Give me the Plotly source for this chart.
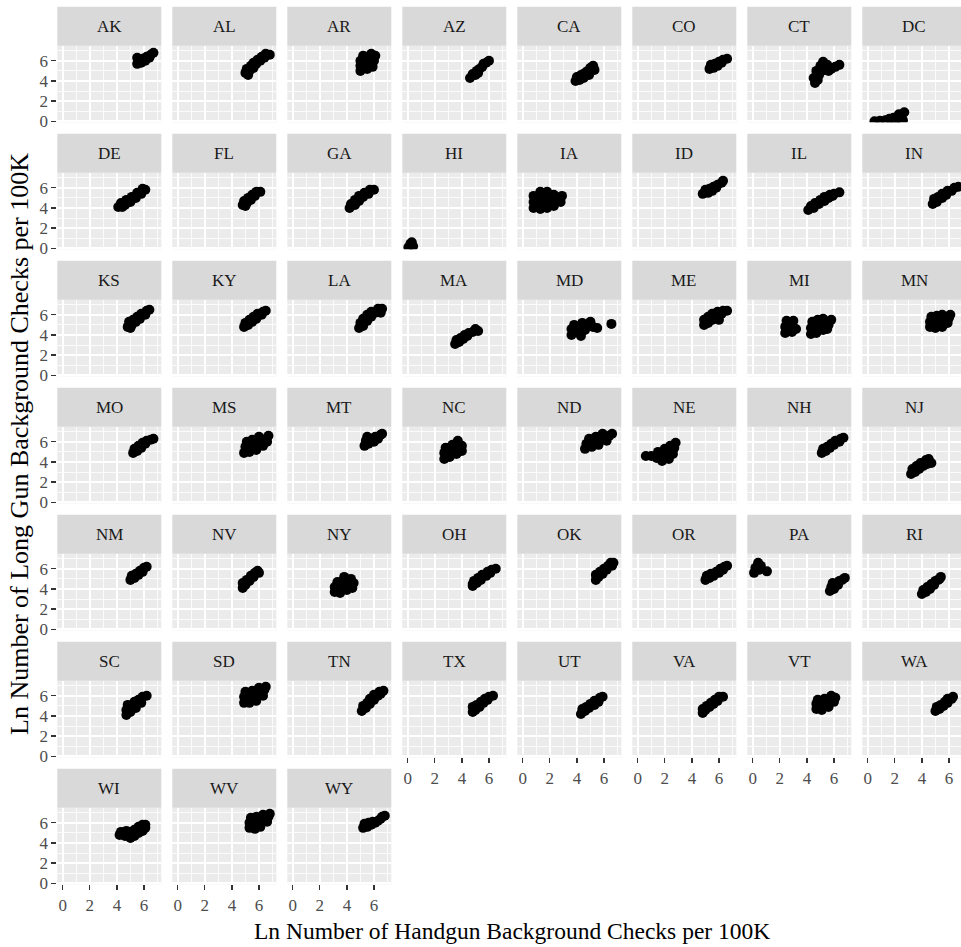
import plotly.graph_objects as go

# ---------------- data (approximate point clouds) ----------------
states = ["AK", "AL", "AR", "AZ", "CA", "CO", "CT", "DC",
          "DE", "FL", "GA", "HI", "IA", "ID", "IL", "IN",
          "KS", "KY", "LA", "MA", "MD", "ME", "MI", "MN",
          "MO", "MS", "MT", "NC", "ND", "NE", "NH", "NJ",
          "NM", "NV", "NY", "OH", "OK", "OR", "PA", "RI",
          "SC", "SD", "TN", "TX", "UT", "VA", "VT", "WA",
          "WI", "WV", "WY"]

AK = [(5.5, 5.7), (5.6, 6.1), (5.8, 5.8), (5.9, 6.2), (6.1, 6.0), (6.2, 6.4), (6.4, 6.3), (6.5, 6.6), (6.7, 6.8), (5.5, 6.3)]
AL = [(5.0, 4.8), (5.1, 5.2), (5.3, 5.0), (5.4, 5.5), (5.6, 5.3), (5.6, 5.8), (5.8, 5.7), (5.9, 6.1), (6.1, 6.0), (6.2, 6.4), (6.4, 6.3), (6.5, 6.7), (6.8, 6.6), (5.2, 4.6)]
AR = [(5.0, 5.0), (5.0, 5.5), (5.0, 6.0), (5.2, 6.5), (5.5, 5.2), (5.5, 5.8), (5.5, 6.4), (5.8, 6.7), (5.9, 5.4), (6.0, 6.0), (6.1, 6.5)]
AZ = [(4.6, 4.3), (4.8, 4.7), (5.0, 4.6), (5.1, 5.0), (5.3, 5.2), (5.5, 5.4), (5.6, 5.7), (5.8, 5.8), (6.0, 6.0), (5.2, 4.8)]
CA = [(3.9, 4.0), (4.0, 4.4), (4.2, 4.1), (4.3, 4.6), (4.5, 4.3), (4.6, 4.8), (4.8, 5.0), (4.9, 4.6), (5.0, 5.3), (5.2, 5.5), (5.3, 5.1)]
CO = [(5.3, 5.2), (5.4, 5.6), (5.6, 5.3), (5.7, 5.7), (5.9, 5.5), (6.0, 5.9), (6.2, 5.8), (6.3, 6.1), (6.6, 6.2)]
CT = [(4.6, 3.8), (4.5, 4.3), (4.8, 4.1), (4.9, 4.6), (4.7, 5.0), (5.1, 5.0), (5.0, 5.5), (5.2, 5.9), (5.4, 5.3), (5.6, 5.0), (5.8, 5.2), (6.1, 5.4), (6.4, 5.6), (5.5, 5.6)]
DC = [(0.5, 0.0), (0.9, 0.05), (1.3, 0.1), (1.6, 0.25), (1.9, 0.35), (2.2, 0.3), (2.5, 0.5), (2.7, 0.9), (2.3, 0.7), (2.0, 0.0), (2.6, 0.1)]
DE = [(4.1, 4.1), (4.3, 4.5), (4.6, 4.3), (4.7, 4.8), (5.0, 4.6), (5.1, 5.1), (5.4, 5.0), (5.5, 5.5), (5.8, 5.4), (5.9, 5.9), (6.1, 5.8), (4.4, 4.1)]
FL = [(4.8, 4.3), (4.9, 4.7), (5.1, 4.5), (5.2, 5.0), (5.4, 4.8), (5.5, 5.3), (5.7, 5.2), (5.8, 5.6), (6.1, 5.6), (5.0, 4.2)]
GA = [(4.2, 4.0), (4.3, 4.4), (4.6, 4.3), (4.6, 4.8), (4.9, 4.7), (4.9, 5.2), (5.2, 5.1), (5.3, 5.5), (5.6, 5.4), (5.7, 5.8), (6.0, 5.8)]
HI = [(0.05, 0.1), (0.2, 0.45), (0.4, 0.2), (0.3, 0.6)]
IA = [(0.8, 4.0), (0.8, 4.6), (0.8, 5.2), (1.3, 3.9), (1.3, 4.5), (1.3, 5.1), (1.3, 5.6), (1.8, 4.0), (1.8, 4.6), (1.8, 5.2), (1.8, 5.6), (2.3, 4.2), (2.3, 4.8), (2.3, 5.3), (2.8, 4.6), (2.9, 5.2)]
ID = [(4.8, 5.4), (5.0, 5.8), (5.2, 5.5), (5.3, 5.9), (5.5, 5.7), (5.6, 6.1), (5.8, 6.0), (5.9, 6.3), (6.2, 6.5), (6.3, 6.7)]
IL = [(4.1, 3.8), (4.3, 4.2), (4.5, 4.0), (4.6, 4.5), (4.9, 4.4), (5.0, 4.8), (5.3, 4.7), (5.3, 5.1), (5.6, 5.0), (5.7, 5.3), (5.9, 5.2), (6.0, 5.4), (6.4, 5.55)]
IN = [(4.8, 4.4), (4.9, 4.9), (5.1, 4.6), (5.2, 5.1), (5.5, 5.0), (5.5, 5.4), (5.8, 5.3), (5.9, 5.7), (6.2, 5.7), (6.4, 6.0), (6.7, 6.1)]
KS = [(4.8, 4.8), (4.9, 5.3), (5.1, 5.0), (5.2, 5.5), (5.4, 5.3), (5.5, 5.8), (5.7, 5.6), (5.8, 6.1), (6.1, 6.0), (6.2, 6.4), (6.4, 6.5), (5.0, 4.7)]
KY = [(4.9, 4.8), (5.0, 5.2), (5.2, 5.0), (5.3, 5.5), (5.5, 5.3), (5.6, 5.8), (5.8, 5.6), (5.9, 6.1), (6.2, 6.0), (6.3, 6.3), (6.5, 6.4)]
LA = [(4.9, 4.7), (5.0, 5.2), (5.2, 4.9), (5.2, 5.6), (5.5, 5.4), (5.5, 6.0), (5.8, 5.8), (5.8, 6.3), (6.1, 6.2), (6.3, 6.6), (6.6, 6.6), (6.5, 6.2)]
MA = [(3.5, 3.1), (3.6, 3.5), (3.8, 3.3), (3.9, 3.7), (4.1, 3.6), (4.2, 4.0), (4.4, 3.9), (4.5, 4.2), (4.8, 4.3), (5.0, 4.6), (5.2, 4.4)]
MD = [(3.6, 4.0), (3.6, 4.6), (3.8, 5.0), (4.0, 4.3), (4.2, 4.8), (4.4, 5.2), (4.6, 4.5), (4.8, 4.9), (5.0, 5.3), (5.2, 4.8), (5.5, 4.7), (4.3, 3.9), (6.55, 5.1)]
ME = [(4.9, 5.0), (4.9, 5.5), (5.2, 5.2), (5.2, 5.8), (5.5, 5.5), (5.5, 6.1), (5.8, 5.8), (5.9, 6.3), (6.2, 6.1), (6.3, 6.4), (6.6, 6.4), (6.0, 5.5)]
MI = [(2.4, 4.2), (2.4, 4.8), (2.5, 5.4), (2.9, 4.3), (2.9, 4.9), (3.0, 5.4), (3.2, 4.6),
      (4.3, 4.1), (4.3, 4.7), (4.4, 5.3), (4.7, 4.2), (4.8, 4.8), (4.8, 5.5), (5.2, 4.5), (5.3, 5.1), (5.2, 5.6), (5.6, 5.0), (5.8, 5.5), (5.5, 4.6)]
MN = [(4.6, 4.8), (4.6, 5.3), (4.7, 5.8), (5.0, 4.7), (5.0, 5.3), (5.1, 5.9), (5.5, 4.8), (5.5, 5.4), (5.5, 6.0), (5.9, 5.2), (6.0, 5.7), (6.1, 6.0)]
MO = [(5.2, 4.9), (5.3, 5.3), (5.5, 5.1), (5.6, 5.6), (5.8, 5.4), (5.9, 5.9), (6.1, 5.8), (6.2, 6.1), (6.5, 6.2), (6.7, 6.3)]
MS = [(4.9, 4.9), (5.0, 5.5), (5.1, 6.0), (5.3, 5.0), (5.4, 5.6), (5.5, 6.2), (5.8, 5.2), (5.8, 5.8), (6.0, 6.5), (6.3, 5.6), (6.3, 6.2), (6.7, 6.6), (6.6, 6.0)]
MT = [(5.3, 5.6), (5.4, 6.1), (5.6, 5.8), (5.7, 6.3), (6.0, 6.0), (6.1, 6.5), (6.3, 6.3), (6.5, 6.7), (6.6, 6.8), (5.5, 6.5)]
NC = [(2.7, 4.3), (2.7, 4.9), (2.8, 5.4), (3.1, 4.5), (3.2, 5.1), (3.3, 5.7), (3.6, 4.8), (3.7, 5.4), (3.7, 6.1), (4.0, 5.6), (4.0, 5.1)]
ND = [(4.6, 5.3), (4.7, 5.8), (4.9, 6.3), (5.1, 5.5), (5.2, 6.0), (5.4, 6.5), (5.6, 5.7), (5.8, 6.2), (5.9, 6.8), (6.2, 6.1), (6.4, 6.6), (6.6, 6.8)]
NE = [(0.6, 4.6), (1.0, 4.6), (1.4, 4.4), (1.5, 5.0), (1.8, 4.1), (1.9, 4.7), (2.0, 5.3), (2.3, 4.3), (2.3, 5.0), (2.4, 5.6), (2.7, 5.4), (2.8, 5.9), (2.6, 4.8)]
NH = [(5.1, 4.9), (5.2, 5.3), (5.4, 5.1), (5.5, 5.5), (5.7, 5.4), (5.8, 5.8), (6.0, 5.7), (6.1, 6.1), (6.4, 6.0), (6.5, 6.3), (6.7, 6.4)]
NJ = [(3.2, 2.8), (3.3, 3.3), (3.5, 3.0), (3.6, 3.6), (3.8, 3.3), (3.9, 3.9), (4.1, 3.6), (4.3, 4.2), (4.4, 3.8), (4.7, 3.9), (4.5, 4.3)]
NM = [(5.0, 4.9), (5.1, 5.3), (5.3, 5.1), (5.4, 5.5), (5.6, 5.4), (5.7, 5.8), (5.9, 5.7), (6.0, 6.1), (6.2, 6.2)]
NV = [(4.8, 4.1), (4.8, 4.6), (5.0, 4.4), (5.1, 4.9), (5.3, 4.8), (5.4, 5.3), (5.6, 5.2), (5.7, 5.6), (5.9, 5.8), (6.0, 5.6)]
NY = [(3.1, 3.7), (3.1, 4.2), (3.3, 4.7), (3.5, 3.6), (3.5, 4.2), (3.7, 4.8), (3.8, 5.2), (4.0, 3.9), (4.1, 4.5), (4.3, 5.0), (4.5, 4.6), (4.4, 4.1)]
OH = [(4.8, 4.3), (4.9, 4.8), (5.1, 4.6), (5.2, 5.1), (5.4, 4.9), (5.5, 5.4), (5.8, 5.3), (5.9, 5.7), (6.1, 5.6), (6.2, 5.9), (6.5, 6.0), (4.8, 4.5)]
OK = [(5.4, 4.9), (5.4, 5.4), (5.6, 5.2), (5.7, 5.7), (5.9, 5.5), (6.0, 6.0), (6.2, 5.9), (6.3, 6.3), (6.6, 6.3), (6.7, 6.6), (6.5, 6.6)]
OR = [(5.0, 4.9), (5.1, 5.3), (5.3, 5.1), (5.4, 5.5), (5.6, 5.3), (5.8, 5.7), (6.0, 5.6), (6.1, 6.0), (6.3, 5.9), (6.4, 6.2), (6.6, 6.3)]
PA = [(0.1, 5.6), (0.2, 6.1), (0.4, 6.6), (0.6, 6.3), (0.5, 5.9), (1.05, 5.75),
      (5.7, 3.8), (5.8, 4.2), (6.0, 4.0), (6.1, 4.5), (6.3, 4.4), (6.4, 4.8), (6.6, 4.9), (6.8, 5.1), (5.9, 4.6)]
RI = [(4.0, 3.5), (4.1, 3.9), (4.3, 3.7), (4.4, 4.2), (4.6, 4.0), (4.7, 4.5), (4.9, 4.4), (5.0, 4.8), (5.2, 4.9), (5.4, 5.2), (5.3, 5.0)]
SC = [(4.7, 4.1), (4.7, 4.6), (4.8, 5.1), (5.0, 4.4), (5.1, 4.9), (5.3, 5.4), (5.4, 4.8), (5.6, 5.6), (5.8, 5.3), (5.9, 5.9), (6.2, 6.0), (5.2, 5.0)]
SD = [(4.9, 5.3), (4.9, 5.9), (5.0, 6.4), (5.3, 5.3), (5.4, 5.9), (5.5, 6.5), (5.8, 5.5), (5.9, 6.1), (6.0, 6.8), (6.3, 6.0), (6.4, 6.6), (6.5, 6.9)]
TN = [(5.1, 4.5), (5.2, 5.0), (5.4, 4.8), (5.5, 5.3), (5.7, 5.2), (5.7, 5.7), (6.0, 5.6), (6.0, 6.1), (6.3, 6.0), (6.4, 6.4), (6.7, 6.5), (6.5, 6.2)]
TX = [(4.8, 4.4), (4.8, 4.9), (5.0, 4.6), (5.1, 5.1), (5.3, 4.9), (5.4, 5.4), (5.6, 5.3), (5.7, 5.7), (5.9, 5.6), (6.0, 5.9), (6.3, 6.0)]
UT = [(4.3, 4.2), (4.4, 4.7), (4.6, 4.5), (4.7, 4.9), (4.9, 4.8), (5.0, 5.2), (5.3, 5.1), (5.3, 5.5), (5.6, 5.4), (5.7, 5.8), (5.9, 5.9)]
VA = [(4.8, 4.3), (4.8, 4.7), (5.0, 4.6), (5.1, 5.0), (5.3, 4.9), (5.4, 5.3), (5.6, 5.2), (5.7, 5.6), (5.9, 5.5), (6.0, 5.9), (6.3, 5.9)]
VT = [(4.7, 4.7), (4.7, 5.2), (4.8, 5.6), (5.1, 4.6), (5.2, 5.2), (5.3, 5.7), (5.6, 4.9), (5.6, 5.5), (5.8, 6.0), (6.0, 5.4), (6.1, 5.8)]
WA = [(5.0, 4.5), (5.1, 4.9), (5.3, 4.7), (5.4, 5.1), (5.6, 5.0), (5.7, 5.4), (5.9, 5.3), (5.9, 5.7), (6.2, 5.7), (6.3, 5.9)]
WI = [(4.2, 4.8), (4.3, 5.1), (4.6, 4.7), (4.7, 5.2), (5.0, 4.5), (5.0, 5.1), (5.3, 4.7), (5.3, 5.3), (5.6, 5.0), (5.6, 5.6), (5.9, 5.2), (5.9, 5.8), (6.1, 5.5), (6.1, 5.8)]
WV = [(5.3, 5.5), (5.3, 6.0), (5.4, 6.5), (5.7, 5.4), (5.7, 6.0), (5.8, 6.6), (6.1, 5.6), (6.2, 6.2), (6.3, 6.8), (6.6, 6.1), (6.7, 6.6), (6.8, 6.9)]
WY = [(5.2, 5.5), (5.3, 5.9), (5.5, 5.6), (5.6, 6.0), (5.8, 5.8), (5.9, 6.1), (6.1, 6.0), (6.3, 6.2), (6.5, 6.4), (6.8, 6.7), (6.6, 6.6)]

tick_vals = [0, 2, 4, 6]
tick_text = ["0", "2", "4", "6"]
x_title = "Ln Number of Handgun Background Checks per 100K"
y_title = "Ln Number of Long Gun Background Checks per 100K"

points = {name: globals()[name] for name in states}

# ---------------- layout geometry (pixels) ----------------
W, H = 961, 947
NCOL = 8
COL_LEFT0, COL_PITCH, PANEL_W = 57.3, 115.0, 104.0
ROW_TOP0, ROW_PITCH, STRIP_H, PANEL_H = 6.7, 127.0, 39.0, 76.6
X_RANGE = [-0.4, 7.28]
Y_RANGE = [-0.1, 7.5]
FONT = "Liberation Serif, Times New Roman, serif"

fig = go.Figure()
shapes, annotations = [], []
n = len(states)

for i, st in enumerate(states):
    r, c = divmod(i, NCOL)
    left = COL_LEFT0 + c * COL_PITCH
    right = left + PANEL_W
    xr = list(X_RANGE)
    vis_right = right
    if right > W:
        vis_right = W
        xr[1] = X_RANGE[0] + (W - left) / PANEL_W * (X_RANGE[1] - X_RANGE[0])
    top = ROW_TOP0 + r * ROW_PITCH
    sb = top + STRIP_H
    bottom = sb + PANEL_H

    suffix = "" if i == 0 else str(i + 1)
    show_x = i + NCOL >= n
    show_y = c == 0

    xs = [p[0] for p in points[st]]
    ys = [p[1] for p in points[st]]
    fig.add_trace(go.Scatter(
        x=xs, y=ys, mode="markers", xaxis="x" + suffix, yaxis="y" + suffix,
        marker=dict(color="black", size=10, line=dict(width=0)),
        showlegend=False, hoverinfo="skip"))

    common = dict(
        showgrid=True, gridcolor="white", gridwidth=1.6,
        zeroline=False, showline=False, automargin=False,
        tickmode="array", tickvals=tick_vals, ticktext=tick_text,
        minor=dict(tickmode="linear", tick0=1, dtick=2, showgrid=True,
                   gridcolor="white", gridwidth=0.8),
        tickfont=dict(family=FONT, size=17, color="#4D4D4D"),
        tickcolor="#333333", tickwidth=1.3, ticklen=5,
        fixedrange=True,
    )
    fig.layout["xaxis" + suffix] = dict(
        common, domain=[left / W, vis_right / W], range=xr,
        anchor="y" + suffix,
        ticks="outside" if show_x else "", showticklabels=show_x)
    fig.layout["yaxis" + suffix] = dict(
        common, domain=[1 - bottom / H, 1 - sb / H], range=Y_RANGE,
        anchor="x" + suffix,
        ticks="outside" if show_y else "", showticklabels=show_y)

    shapes.append(dict(type="rect", xref="paper", yref="paper",
                       x0=left / W, x1=vis_right / W,
                       y0=1 - sb / H, y1=1 - top / H,
                       fillcolor="#D9D9D9", line=dict(width=0), layer="below"))
    annotations.append(dict(text=st, xref="paper", yref="paper",
                            x=(left + right) / 2 / W, y=1 - (top + STRIP_H / 2) / H,
                            xanchor="center", yanchor="middle", showarrow=False,
                            font=dict(family=FONT, size=17, color="#1A1A1A")))

panel_cx = (COL_LEFT0 + COL_LEFT0 + (NCOL - 1) * COL_PITCH + PANEL_W) / 2
annotations.append(dict(text=x_title, xref="paper", yref="paper",
                        x=panel_cx / W, y=1 - 931 / H, xanchor="center", yanchor="middle",
                        showarrow=False, font=dict(family=FONT, size=23.5, color="black")))
annotations.append(dict(text=y_title, xref="paper", yref="paper",
                        x=19 / W, y=1 - 444 / H, xanchor="center", yanchor="middle",
                        textangle=-90, showarrow=False,
                        font=dict(family=FONT, size=26, color="black")))

fig.update_layout(
    width=W, height=H, margin=dict(l=0, r=0, t=0, b=0, pad=0, autoexpand=False),
    paper_bgcolor="white", plot_bgcolor="#EBEBEB",
    shapes=shapes, annotations=annotations, showlegend=False,
)

fig.write_html(
    "out.html",
    config={"displayModeBar": False, "staticPlot": True},
    post_script="document.body.style.margin='0px';document.body.style.padding='0px';"
                "document.documentElement.style.overflow='hidden';",
)
